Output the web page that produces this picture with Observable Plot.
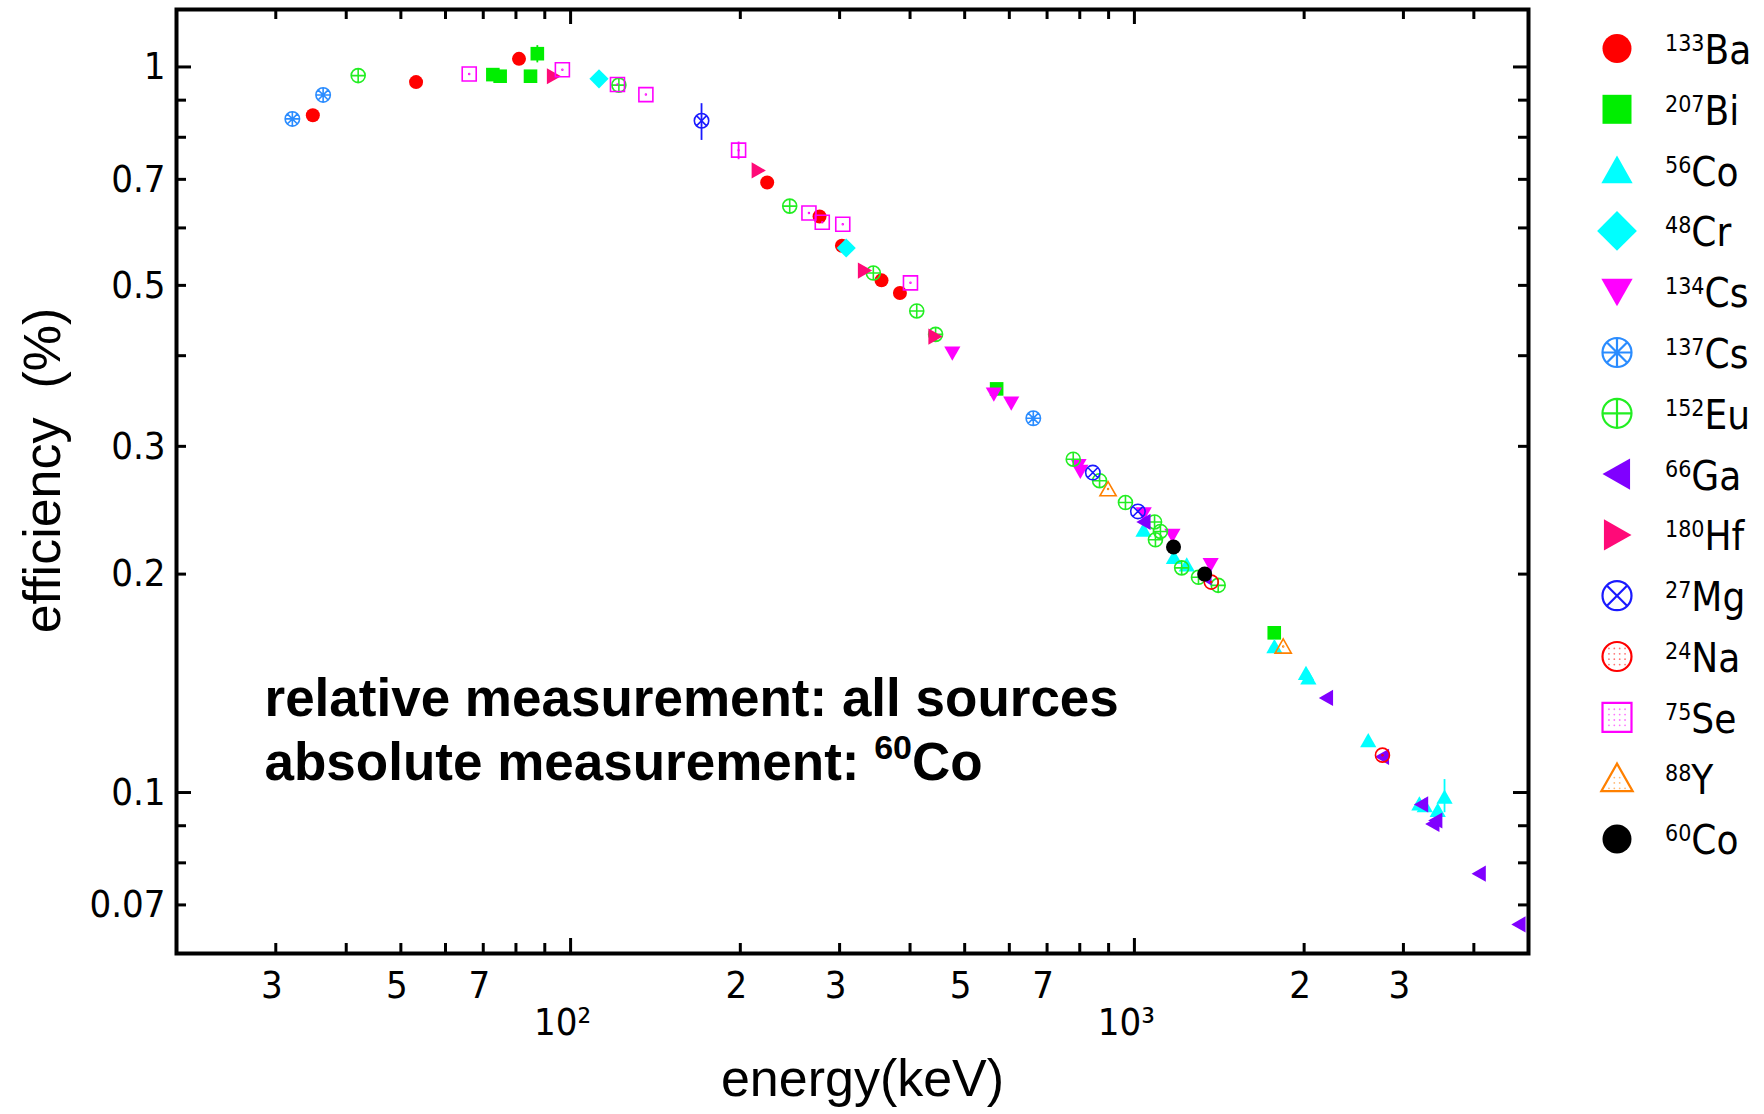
<!DOCTYPE html>
<html>
<head>
<meta charset="utf-8">
<script src="https://cdn.jsdelivr.net/npm/d3@7"></script>
<script src="https://cdn.jsdelivr.net/npm/@observablehq/plot@0.6"></script>
<style>
  html, body { margin: 0; padding: 0; background: #fff; }
  #root { position: relative; width: 1764px; height: 1114px; overflow: hidden; background: #fff; }
  #root > svg { position: absolute; left: 0; top: 0; }
</style>
</head>
<body>
<div id="root"></div>
<script>
// ---------------- DATA (energy keV, efficiency %) ----------------
const sources = ["133Ba", "207Bi", "56Co", "48Cr", "134Cs", "137Cs", "152Eu", "66Ga", "180Hf", "27Mg", "24Na", "75Se", "88Y", "60Co"];

const Ba133 = [[34.9, 0.858], [53.2, 0.953], [81.0, 1.026], [223.2, 0.693], [276.4, 0.622], [302.9, 0.567], [356.0, 0.508], [383.8, 0.488]];
const Bi207 = [[72.8, 0.976], [75.0, 0.971], [84.9, 0.971], [87.3, 1.043], [569.7, 0.360], [1770.2, 0.166]];
const Co56 = [[1037.8, 0.230], [1175.1, 0.211], [1238.3, 0.206], [1771.3, 0.159], [2015.2, 0.146], [2034.8, 0.144], [2598.5, 0.118], [3202.0, 0.0965], [3273.0, 0.0960], [3451.2, 0.0945], [3548.3, 0.0986]];
const Cr48 = [[112.3, 0.963], [308.2, 0.563]];
const Cs134 = [[475.4, 0.403], [563.2, 0.354], [604.7, 0.344], [795.9, 0.282], [801.9, 0.277], [1038.6, 0.242], [1167.9, 0.226], [1365.2, 0.206]];
const Cs137 = [[32.1, 0.848], [36.4, 0.915], [661.7, 0.328]];
const Eu152 = [[42.0, 0.973], [121.8, 0.944], [244.7, 0.643], [344.3, 0.520], [411.1, 0.461], [444.0, 0.428], [778.9, 0.288], [867.4, 0.269], [964.1, 0.251], [1085.8, 0.236], [1089.7, 0.223], [1112.1, 0.229], [1212.9, 0.204], [1299.1, 0.198], [1408.0, 0.193]];
const Ga66 = [[1039.2, 0.236], [1333.1, 0.198], [2189.6, 0.135], [2752.0, 0.112], [3228.8, 0.0963], [3380.9, 0.0905], [3422.0, 0.0915], [4085.9, 0.0773], [4806.0, 0.0658]];
const Hf180 = [[93.3, 0.971], [215.3, 0.720], [332.3, 0.524], [443.2, 0.425]];
const Mg27 = [[170.7, 0.843], [843.8, 0.276], [1014.4, 0.244]];
const Na24 = [[1368.6, 0.195], [2754.0, 0.1126]];
const Se75 = [[66.1, 0.978], [96.7, 0.991], [121.1, 0.946], [136.0, 0.916], [198.6, 0.768], [264.7, 0.629], [279.5, 0.611], [303.9, 0.607], [400.7, 0.504]];
const Y88 = [[898.0, 0.262], [1836.1, 0.159]];
const Co60 = [[1173.2, 0.218], [1332.5, 0.200]];

const seriesPoints = [Ba133, Bi207, Co56, Cr48, Cs134, Cs137, Eu152, Ga66, Hf180, Mg27, Na24, Se75, Y88, Co60];

// error bars: [energy, low, high, source]
const errorBars = [[87.3, 1.013, 1.070, "207Bi"], [170.7, 0.792, 0.890, "27Mg"], [198.6, 0.745, 0.788, "75Se"], [3548.3, 0.0938, 0.1042, "56Co"]];

// axes
const xLabelTicks = [30, 50, 70, 200, 300, 500, 700, 2000, 3000];
const xDecadeTicks = [100, 1000];
const xDecadeText = ["10²", "10³"];
const xMinorTicks = [30, 40, 50, 60, 70, 80, 90, 200, 300, 400, 500, 600, 700, 800, 900, 2000, 3000, 4000];
const xMajorTicks = [100, 1000];
const yLabelTicks = [1, 0.7, 0.5, 0.3, 0.2, 0.1, 0.07];
const yMinorTicks = [0.07, 0.08, 0.09, 0.2, 0.3, 0.4, 0.5, 0.6, 0.7, 0.8, 0.9];
const yMajorTicks = [0.1, 1];
const xDomain = [20, 5000];
const yDomain = [0.06, 1.2];
const xTitle = "energy(keV)";
const yTitle = "efficiency\u00a0\u00a0(%)";
const annotationLines = ["relative measurement: all sources", "absolute measurement: 60Co"];
const annotationSup = "60"; // superscript mass number in the second line

// ---------------- SYMBOLS & STYLES ----------------
const TAU = 2 * Math.PI;
const makeSymbol = (fn) => ({draw(ctx, size) { fn(ctx, Math.sqrt(size / Math.PI)); }});
const circ = (c, r) => { c.moveTo(r, 0); c.arc(0, 0, r, 0, TAU); };
const cdot = (c, r) => { if (r < 10) { const d = 0.45; c.moveTo(d, 0); c.arc(0, 0, d, 0, TAU); } };
const poly = (c, r, pts) => { c.moveTo(pts[0][0] * r, pts[0][1] * r); for (let k = 1; k < pts.length; k++) c.lineTo(pts[k][0] * r, pts[k][1] * r); c.closePath(); };
const TRI_UP = [[0, -1], [1.08, 0.9], [-1.08, 0.9]];
const TRI_DOWN = [[0, 1], [1.08, -0.9], [-1.08, -0.9]];
const TRI_LEFT = [[-1, 0], [0.9, -1.08], [0.9, 1.08]];
const TRI_RIGHT = [[1, 0], [-0.9, -1.08], [-0.9, 1.08]];

const symCircle = makeSymbol((c, r) => circ(c, r));
const symSquare = makeSymbol((c, r) => c.rect(-r, -r, 2 * r, 2 * r));
const symTriUp = makeSymbol((c, r) => poly(c, r, TRI_UP));
const symTriDown = makeSymbol((c, r) => poly(c, r, TRI_DOWN));
const symTriLeft = makeSymbol((c, r) => poly(c, r, TRI_LEFT));
const symTriRight = makeSymbol((c, r) => poly(c, r, TRI_RIGHT));
const symDiamond = makeSymbol((c, r) => poly(c, r * 1.37, [[0, -1], [1, 0], [0, 1], [-1, 0]]));
const symAsterisk = makeSymbol((c, r) => {
  circ(c, r);
  for (let k = 0; k < 4; k++) { const a = k * Math.PI / 4; c.moveTo(Math.cos(a) * r, Math.sin(a) * r); c.lineTo(-Math.cos(a) * r, -Math.sin(a) * r); }
});
const symPlus = makeSymbol((c, r) => { circ(c, r); c.moveTo(-r, 0); c.lineTo(r, 0); c.moveTo(0, -r); c.lineTo(0, r); });
const symX = makeSymbol((c, r) => { circ(c, r); const q = r * Math.SQRT1_2; c.moveTo(-q, -q); c.lineTo(q, q); c.moveTo(-q, q); c.lineTo(q, -q); });
const symCircleDot = makeSymbol((c, r) => { circ(c, r); cdot(c, r); });
const symSquareDot = makeSymbol((c, r) => { c.rect(-r, -r, 2 * r, 2 * r); cdot(c, r); });
const symTriDot = makeSymbol((c, r) => { poly(c, r, TRI_UP); cdot(c, r); });

const styles = {
  "133Ba": {symbol: symCircle, color: "#ff0000", filled: true, r: 7},
  "207Bi": {symbol: symSquare, color: "#00ee00", filled: true, r: 6.8},
  "56Co": {symbol: symTriUp, color: "#00ffff", filled: true, r: 7.5},
  "48Cr": {symbol: symDiamond, color: "#00ffff", filled: true, r: 7},
  "134Cs": {symbol: symTriDown, color: "#ff00ff", filled: true, r: 7.5},
  "137Cs": {symbol: symAsterisk, color: "#2a8cff", filled: false, r: 7.2},
  "152Eu": {symbol: symPlus, color: "#22ee22", filled: false, r: 7},
  "66Ga": {symbol: symTriLeft, color: "#8000ff", filled: true, r: 7.5},
  "180Hf": {symbol: symTriRight, color: "#ff0a78", filled: true, r: 7.5},
  "27Mg": {symbol: symX, color: "#1a1aff", filled: false, r: 7.2},
  "24Na": {symbol: symCircleDot, color: "#ff0000", filled: false, r: 7, dotted: "circle"},
  "75Se": {symbol: symSquareDot, color: "#ff00ff", filled: false, r: 7, dotted: "square"},
  "88Y": {symbol: symTriDot, color: "#ff8000", filled: false, r: 7.5, dotted: "tri"},
  "60Co": {symbol: symCircle, color: "#000000", filled: true, r: 7.5}
};

const FONT_TICK = "'Liberation Sans Narrow', 'DejaVu Sans Condensed', 'Liberation Sans', Arial, sans-serif";
const FONT_TITLE = "'Liberation Sans', Arial, sans-serif";
const FONT_BOLD = "'Liberation Sans', Arial, sans-serif";

// ---------------- LAYOUT ----------------
const W = 1764, H = 1114;
const mL = 176, mR = 236, mT = 9, mB = 161;
const innerW = W - mL - mR, innerH = H - mT - mB;
const TICK_MINOR = 10, TICK_MAJOR = 15, TICK_W = 3;

const marks = [];
// inward ticks on all four sides
marks.push(Plot.ruleX(xMinorTicks, {x: d => d, insetTop: innerH - TICK_MINOR, strokeWidth: TICK_W}));
marks.push(Plot.ruleX(xMajorTicks, {x: d => d, insetTop: innerH - TICK_MAJOR, strokeWidth: TICK_W}));
marks.push(Plot.ruleX(xMinorTicks, {x: d => d, insetBottom: innerH - TICK_MINOR, strokeWidth: TICK_W}));
marks.push(Plot.ruleX(xMajorTicks, {x: d => d, insetBottom: innerH - TICK_MAJOR, strokeWidth: TICK_W}));
marks.push(Plot.ruleY(yMinorTicks, {y: d => d, insetRight: innerW - TICK_MINOR, strokeWidth: TICK_W}));
marks.push(Plot.ruleY(yMajorTicks, {y: d => d, insetRight: innerW - TICK_MAJOR, strokeWidth: TICK_W}));
marks.push(Plot.ruleY(yMinorTicks, {y: d => d, insetLeft: innerW - TICK_MINOR, strokeWidth: TICK_W}));
marks.push(Plot.ruleY(yMajorTicks, {y: d => d, insetLeft: innerW - TICK_MAJOR, strokeWidth: TICK_W}));

// tick labels
marks.push(Plot.axisX(xLabelTicks, {tickSize: 0, tickPadding: 18, dx: -4, tickFormat: d => String(d).charAt(0), fontSize: 38, fontFamily: FONT_TICK, label: null}));
marks.push(Plot.axisX(xDecadeTicks, {tickSize: 0, tickPadding: 55, dx: -8, tickFormat: d => xDecadeText[xDecadeTicks.indexOf(d)], fontSize: 38, fontFamily: FONT_TICK, label: null}));
marks.push(Plot.axisY(yLabelTicks, {tickSize: 0, tickPadding: 11, tickFormat: d => String(d), fontSize: 38, fontFamily: FONT_TICK, label: null}));

// error bars
for (const s of sources) {
  const bars = errorBars.filter(e => e[3] === s);
  if (bars.length) marks.push(Plot.ruleX(bars, {x: d => d[0], y1: d => d[1], y2: d => d[2], stroke: styles[s].color, strokeWidth: 1.8}));
}

// data points
sources.forEach((s, i) => {
  const st = styles[s];
  marks.push(Plot.dot(seriesPoints[i], {
    x: d => d[0], y: d => d[1], r: st.r, symbol: st.symbol,
    fill: st.filled ? st.color : "none",
    stroke: st.filled ? "none" : st.color,
    strokeWidth: st.filled ? 0 : 1.6
  }));
});

// frame
marks.push(Plot.frame({stroke: "black", strokeWidth: 4}));

// axis titles
marks.push(Plot.text([yTitle], {text: d => d, frameAnchor: "left", textAnchor: "middle", lineAnchor: "middle", rotate: -90, dx: -133, dy: -11, fontSize: 52, fontFamily: FONT_TITLE}));
marks.push(Plot.text([xTitle], {text: d => d, frameAnchor: "bottom", textAnchor: "middle", lineAnchor: "bottom", dx: 10, dy: 142, fontSize: 52, fontFamily: FONT_TITLE}));

// annotation
marks.push(Plot.text([annotationLines.join("\n")], {text: d => d, frameAnchor: "top-left", dx: 88, dy: 770, lineAnchor: "bottom", textAnchor: "start", lineHeight: 1.19, fontSize: 53, fontWeight: "bold", fontFamily: FONT_BOLD}));

const chart = Plot.plot({
  width: W, height: H,
  marginLeft: mL, marginRight: mR, marginTop: mT, marginBottom: mB,
  x: {type: "log", domain: xDomain},
  y: {type: "log", domain: yDomain},
  style: {fontFamily: FONT_TICK, fontSize: "38px", background: "white", color: "black", overflow: "visible"},
  marks
});
document.getElementById("root").appendChild(chart);

// superscript the mass number in the annotation ("60Co")
d3.select(chart).selectAll("text, tspan").each(function () {
  if (this.children.length) return;
  const s = this.textContent;
  const key = annotationSup + "Co";
  if (s === annotationLines[1]) {
    const idx = s.lastIndexOf(key);
    this.textContent = s.slice(0, idx);
    d3.select(this).append("tspan").attr("font-size", 34).attr("dy", -21).text(annotationSup);
    d3.select(this).append("tspan").attr("dy", 21).text(s.slice(idx + annotationSup.length));
  }
});

// ---------------- LEGEND ----------------
const LEG_LEFT = 1580, LEG_R = 14.5, LEG_Y0 = 48.5, LEG_STEP = 60.8;
const legend = d3.select("#root").append("svg")
  .attr("width", W - LEG_LEFT).attr("height", 900)
  .style("left", LEG_LEFT + "px").style("top", "0px")
  .style("font-family", FONT_TICK);

function legendDots(g, kind, r, color) {
  const s = r * 0.37, offs = [-1.5, -0.5, 0.5, 1.5].map(k => k * s);
  for (const x of offs) for (const y of offs) {
    let ok = true;
    if (kind === "circle") ok = Math.hypot(x, y) < r * 0.8;
    if (kind === "tri") ok = y > -0.3 * r && Math.abs(x) < (y + r) * 0.45;
    if (ok) g.append("circle").attr("cx", x).attr("cy", y + (kind === "tri" ? 0.15 * r : 0)).attr("r", 0.9).attr("fill", color).attr("opacity", 0.55);
  }
}

sources.forEach((s, i) => {
  const st = styles[s];
  const cy = LEG_Y0 + i * LEG_STEP;
  const g = legend.append("g").attr("transform", `translate(${1617 - LEG_LEFT},${cy})`);
  g.append("path")
    .attr("d", d3.symbol(st.symbol, Math.PI * LEG_R * LEG_R)())
    .attr("fill", st.filled ? st.color : "none")
    .attr("stroke", st.filled ? "none" : st.color)
    .attr("stroke-width", st.filled ? 0 : 2.2);
  if (st.dotted) legendDots(g, st.dotted, LEG_R, st.color);
  const m = s.match(/^(\d+)(.*)$/);
  const t = legend.append("text").attr("x", 1665 - LEG_LEFT).attr("y", cy + 15.5).attr("fill", "black");
  t.append("tspan").attr("font-size", 23).attr("dy", -13).text(m[1]);
  t.append("tspan").attr("font-size", 40).attr("dy", 13).text(m[2]);
});
</script>
</body>
</html>
